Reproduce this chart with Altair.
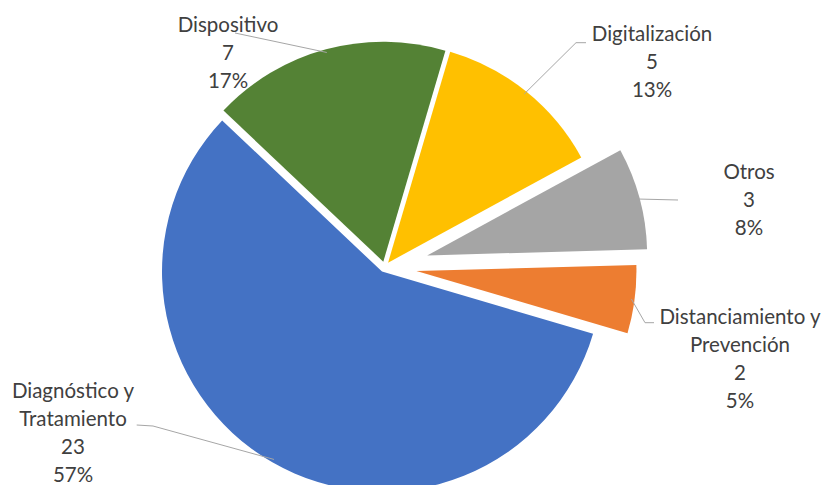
import math
import altair as alt
import pandas as pd

# ---- data ----
categories = ["Digitalización", "Otros", "Distanciamiento y Prevención",
              "Diagnóstico y Tratamiento", "Dispositivo"]
values = [5, 3, 2, 23, 7]
pct_labels = ["13%", "8%", "5%", "57%", "17%"]
name_lines = [["Digitalización"], ["Otros"], ["Distanciamiento y", "Prevención"],
              ["Diagnóstico y", "Tratamiento"], ["Dispositivo"]]

# ---- styles / layout ----
colors = ["#FFC000", "#A5A5A5", "#ED7D31", "#4472C4", "#548235"]
W, H = 817, 477
CX, CY = 376.7, 258.9
R = 220
START = math.radians(16.4)
explode = [5.4, 44, 32, 5.4, 5.4]
# label first-line centres (chart pixels)
label_x = [644, 741, 732, 65, 220]
label_y = [27, 165, 310, 384, 18]
# leader line elbow and end points (chart pixels)
elbow_x = [568, 670, 637, 145, 227]
elbow_y = [34.7, 192, 314.7, 418, 25]
end_x = [578, 670, 646, 128.7, 227]
end_y = [34.7, 192, 314.7, 417, 25]

df = pd.DataFrame({
    "category": categories,
    "value": values,
    "idx": list(range(len(categories))),
    "explode": explode,
    "label": [n + [str(v), p] for n, v, p in zip(name_lines, values, pct_labels)],
    "lx": label_x, "ly": label_y,
    "ex": elbow_x, "ey": elbow_y, "tx": end_x, "ty": end_y,
})

base = alt.Chart(df).transform_joinaggregate(
    total="sum(value)"
).transform_window(
    cum="sum(value)", sort=[alt.SortField("idx")], frame=[None, 0]
).transform_calculate(
    mid=f"{START} + 2*PI*(datum.cum - datum.value/2)/datum.total"
).transform_calculate(
    cx=f"{CX} + datum.explode*sin(datum.mid)",
    cy=f"{CY} - datum.explode*cos(datum.mid)",
)

color = alt.Color("category:N", scale=alt.Scale(domain=categories, range=colors), legend=None)

arcs = base.mark_arc(radius=R).encode(
    theta=alt.Theta("value:Q", stack=True,
                    scale=alt.Scale(range=[START, START + 2 * math.pi])),
    order=alt.Order("idx:Q"),
    color=color,
    x=alt.X("cx:Q", scale=None),
    y=alt.Y("cy:Q", scale=None),
)

leaders = base.transform_calculate(
    px=f"datum.cx + {R*0.985}*sin(datum.mid)",
    py=f"datum.cy - {R*0.985}*cos(datum.mid)",
).transform_calculate(
    xs="[datum.px, datum.ex, datum.tx]",
    ys="[datum.py, datum.ey, datum.ty]",
    ks="[0, 1, 2]",
).transform_flatten(
    ["xs", "ys", "ks"]
).mark_line(color="#A6A6A6", strokeWidth=1).encode(
    x=alt.X("xs:Q", scale=None),
    y=alt.Y("ys:Q", scale=None),
    detail="category:N",
    order="ks:Q",
)

labels = alt.Chart(df).mark_text(
    font="Lato", fontSize=20.5, color="#404040", align="center",
    baseline="middle", lineHeight=28,
).encode(
    x=alt.X("lx:Q", scale=None),
    y=alt.Y("ly:Q", scale=None),
    text="label",
)

chart = alt.layer(arcs, leaders, labels).properties(
    width=W, height=H, padding=0, autosize=alt.AutoSizeParams(type="none"),
).configure_view(stroke=None)

chart.save("out.html", embed_options={"renderer": "svg", "actions": False})
